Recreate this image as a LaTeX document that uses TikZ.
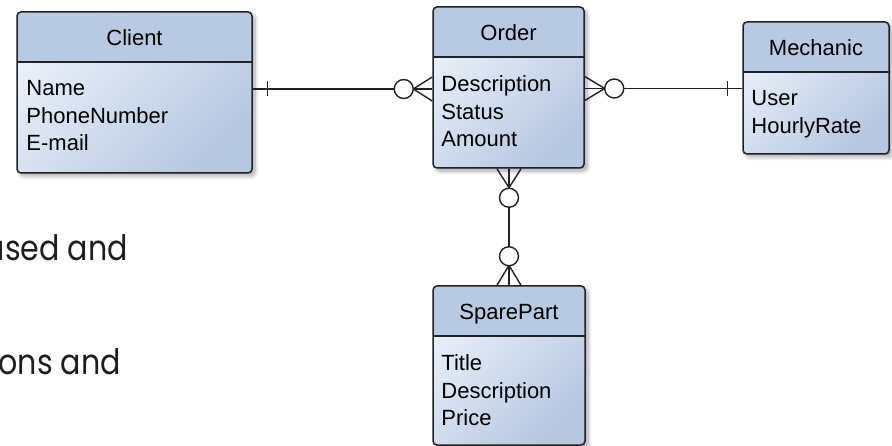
\documentclass[tikz,border=0pt]{standalone}
\usepackage{fontspec}
\setmainfont{Liberation Sans}
\newfontfamily\gothic[FakeStretch=0.86]{Poppins}
\usetikzlibrary{shadows.blur}
\definecolor{hdr}{RGB}{184,201,227}
\definecolor{bodyA}{RGB}{234,240,249}
\definecolor{bodyB}{RGB}{182,199,226}
\definecolor{edge}{RGB}{34,34,34}
\definecolor{bgink}{RGB}{30,30,30}
\tikzset{
  entity/.style={draw=edge, line width=1.5pt, rounded corners=4pt, inner sep=0pt,
    top color=bodyA, bottom color=bodyB, shading angle=45,
    blur shadow={shadow xshift=3pt, shadow yshift=-3pt, shadow blur radius=4pt, shadow blur steps=8, shadow opacity=35},
    path picture={
      \fill[hdr] ([yshift=2pt]path picture bounding box.north west) rectangle ([yshift=-50pt]path picture bounding box.north east);
      \draw[edge, line width=1.5pt] ([yshift=-50pt]path picture bounding box.north west) -- ([yshift=-50pt]path picture bounding box.north east);
    }},
  etitle/.style={anchor=base, inner sep=0pt, font=\fontsize{22}{27.7}\selectfont, text=black},
  attrs/.style={anchor=north west, inner sep=0pt, align=left, font=\fontsize{22}{27.7}\selectfont, text=black},
  conn/.style={draw=edge, line width=1.4pt},
  bgtext/.style={anchor=base east, inner sep=0pt, font=\gothic\fontsize{35}{40}\selectfont, text=bgink}
}
\begin{document}
\begin{tikzpicture}[x=1pt, y=-1pt]
\useasboundingbox (0,0) rectangle (892,446);
\clip (0,0) rectangle (892,446);

% background text fragments
\node[bgtext] (t1) at (128,261) {used and};
\node[bgtext] (t2) at (121,375) {ons and};

% entities
\node[entity, minimum width=235pt, minimum height=161pt] (client) at (134.5,92.5) {};
\node[entity, minimum width=151pt, minimum height=161pt] (order) at (508.5,87.5) {};
\node[entity, minimum width=146pt, minimum height=132pt] (mech) at (816,88) {};
\node[entity, minimum width=152pt, minimum height=159pt] (spare) at (509,365.5) {};

% titles
\node[etitle] (clientT) at ([yshift=-34pt]client.north) {Client};
\node[etitle] (orderT) at ([yshift=-34pt]order.north) {Order};
\node[etitle] (mechT) at ([yshift=-34pt]mech.north) {Mechanic};
\node[etitle] (spareT) at ([yshift=-34pt]spare.north) {SparePart};

% attributes
\node[attrs] (clientA) at ([xshift=10pt,yshift=-69pt]client.north west) {Name\\PhoneNumber\\E-mail};
\node[attrs] (orderA) at ([xshift=9pt,yshift=-69pt]order.north west) {Description\\Status\\Amount};
\node[attrs] (mechA) at ([xshift=9pt,yshift=-69pt]mech.north west) {User\\HourlyRate};
\node[attrs] (spareA) at ([xshift=9pt,yshift=-69pt]spare.north west) {Title\\Description\\Price};

% Client -- Order
\coordinate (oL) at ([yshift=-1.5pt]order.west);
\coordinate (cR) at (client.east |- oL);
\draw[conn] (cR) -- (oL);
\draw[conn] ([xshift=15pt,yshift=7.5pt]cR) -- ([xshift=15pt,yshift=-7.5pt]cR);
\draw[conn] ([yshift=12pt]oL) -- ([xshift=-19pt]oL) -- ([yshift=-12pt]oL);
\draw[conn, fill=white] ([xshift=-28.5pt]oL) circle (9.5pt);

% Order -- Mechanic
\coordinate (oR) at ([yshift=-1pt]order.east);
\coordinate (mL) at (mech.west |- oR);
\draw[conn] (oR) -- (mL);
\draw[conn] ([xshift=-15pt,yshift=7.5pt]mL) -- ([xshift=-15pt,yshift=-7.5pt]mL);
\draw[conn] ([yshift=12pt]oR) -- ([xshift=20pt]oR) -- ([yshift=-12pt]oR);
\draw[conn, fill=white] ([xshift=29.5pt]oR) circle (9.5pt);

% Order -- SparePart
\coordinate (oB) at (spare.north |- order.south);
\coordinate (sT) at (spare.north);
\draw[conn] (oB) -- (sT);
\draw[conn] ([xshift=-12pt]oB) -- ([yshift=-19pt]oB) -- ([xshift=12pt]oB);
\draw[conn, fill=white] ([yshift=-29pt]oB) circle (9.5pt);
\draw[conn] ([xshift=-12pt]sT) -- ([yshift=20pt]sT) -- ([xshift=12pt]sT);
\draw[conn, fill=white] ([yshift=29pt]sT) circle (9.5pt);
\end{tikzpicture}
\end{document}
